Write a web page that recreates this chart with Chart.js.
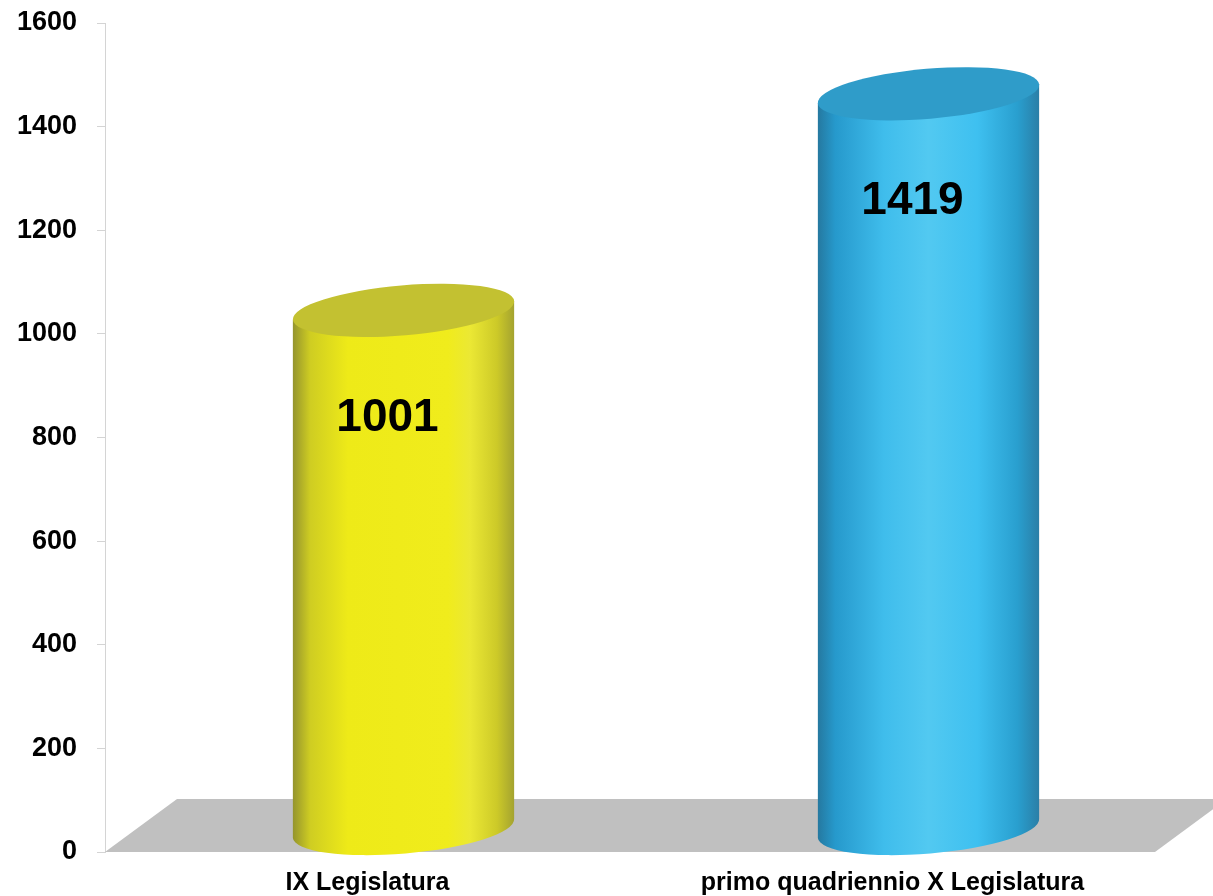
<!DOCTYPE html>
<html>
<head>
<meta charset="utf-8">
<script src="https://cdn.jsdelivr.net/npm/chart.js@4"></script>
<style>
  html, body { margin: 0; padding: 0; background: #fff; }
  #wrap { width: 1213px; height: 896px; }
</style>
</head>
<body>
<div id="wrap"><canvas id="chart" width="1213" height="896"></canvas></div>
<script>
const categories = ["IX Legislatura", "primo quadriennio X Legislatura"];
const values = [1001, 1419];
const yMin = 0;
const yMax = 1600;
const yStep = 200;

// side shading and top colour for each cylinder
const sideStops = [
  [[0, "#93932e"], [0.08, "#cfcd22"], [0.25, "#eeea18"], [0.7, "#f0ec1c"], [0.8, "#ebe834"], [0.92, "#cdca28"], [1, "#a3a230"]],
  [[0, "#25789f"], [0.08, "#2699cc"], [0.3, "#3fbdec"], [0.5, "#52c9f1"], [0.72, "#3ec0f0"], [0.9, "#299fcf"], [1, "#2a7ea6"]]
];
const topColors = ["#c3c131", "#2f9cc9"];

const DX = 36;   // depth shift of the bars
const DY = -23;
const FLOOR_DX = 72;
const FLOOR_DY = -53;

const floorPlugin = {
  id: "floor",
  beforeDatasetsDraw(chart) {
    const { ctx, chartArea, scales } = chart;
    const y0 = scales.y.getPixelForValue(0);
    ctx.save();
    ctx.fillStyle = "#c0c0c0";
    ctx.beginPath();
    ctx.moveTo(chartArea.left, y0);
    ctx.lineTo(chartArea.left + FLOOR_DX, y0 + FLOOR_DY);
    ctx.lineTo(chartArea.right + FLOOR_DX, y0 + FLOOR_DY);
    ctx.lineTo(chartArea.right, y0);
    ctx.closePath();
    ctx.fill();
    ctx.restore();
  }
};

const cylinderPlugin = {
  id: "cylinders",
  afterDatasetsDraw(chart) {
    const { ctx } = chart;
    const meta = chart.getDatasetMeta(0);
    const tilt = -0.085;
    meta.data.forEach((bar, i) => {
      const cx = bar.x + DX;
      const rx = bar.width / 2;
      const ry = 25;
      const topY = bar.y + DY;
      const botY = bar.base + DY;
      const ex = rx * Math.cos(tilt);
      const ey = rx * Math.sin(tilt);

      ctx.save();
      const grad = ctx.createLinearGradient(cx - rx, 0, cx + rx, 0);
      sideStops[i].forEach(s => grad.addColorStop(s[0], s[1]));
      ctx.fillStyle = grad;
      ctx.beginPath();
      ctx.ellipse(cx, botY, rx, ry, tilt, 0, Math.PI, false);
      ctx.lineTo(cx - ex, topY - ey);
      ctx.lineTo(cx + ex, topY + ey);
      ctx.closePath();
      ctx.fill();

      ctx.fillStyle = topColors[i];
      ctx.beginPath();
      ctx.ellipse(cx, topY, rx, ry, tilt, 0, Math.PI * 2);
      ctx.fill();

      ctx.fillStyle = "#000";
      ctx.font = "bold 46px 'Liberation Sans', Arial, sans-serif";
      ctx.textAlign = "center";
      ctx.textBaseline = "middle";
      ctx.fillText(String(values[i]), cx - 16, topY + 108);
      ctx.restore();
    });
  }
};

new Chart(document.getElementById("chart"), {
  type: "bar",
  data: {
    labels: categories,
    datasets: [{
      data: values,
      backgroundColor: "rgba(0,0,0,0)",
      borderWidth: 0,
      categoryPercentage: 1,
      barPercentage: 0.423
    }]
  },
  options: {
    responsive: false,
    animation: false,
    layout: { padding: { top: 23, right: 58, left: 0, bottom: 0 } },
    plugins: {
      legend: { display: false },
      tooltip: { enabled: false }
    },
    scales: {
      x: {
        grid: { display: false, drawTicks: false },
        border: { display: false },
        ticks: {
          color: "#000",
          padding: 16,
          maxRotation: 0,
          font: { family: "'Liberation Sans', Arial, sans-serif", size: 25, weight: "bold" }
        },
        afterFit: s => { s.height = 44; }
      },
      y: {
        min: yMin,
        max: yMax,
        ticks: {
          stepSize: yStep,
          color: "#000",
          padding: 20,
          callback: v => String(v),
          font: { family: "'Liberation Sans', Arial, sans-serif", size: 27, weight: "bold" }
        },
        grid: { drawOnChartArea: false, drawTicks: true, tickLength: 8, color: "#d4d4d4" },
        border: { color: "#d4d4d4" },
        afterFit: s => { s.width = 105; s.paddingTop = 0; s.paddingBottom = 0; }
      }
    }
  },
  plugins: [floorPlugin, cylinderPlugin]
});
</script>
</body>
</html>
